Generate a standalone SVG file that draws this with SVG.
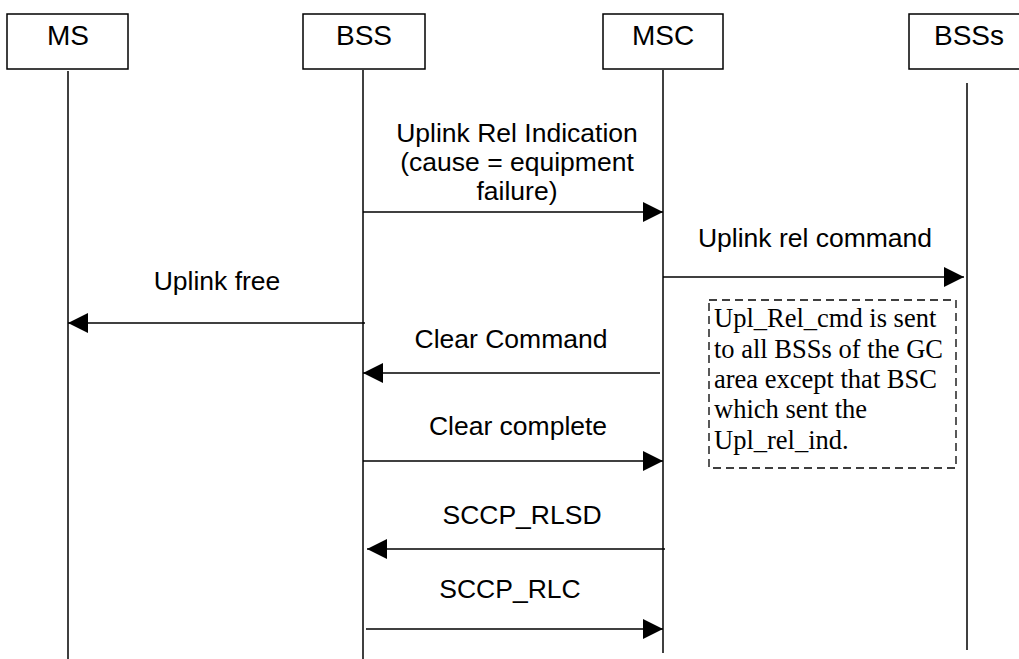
<svg xmlns="http://www.w3.org/2000/svg" width="1019" height="659" viewBox="0 0 1019 659">
<defs>
<marker id="ah" markerUnits="userSpaceOnUse" markerWidth="20" markerHeight="20" refX="20" refY="10" orient="auto">
<path d="M0,0 L20,10 L0,20 z" fill="#000"/>
</marker>
<style>
.box{fill:#fff;stroke:#000;stroke-width:1.5}
.life{stroke:#000;stroke-width:1.5;fill:none}
.msg{stroke:#000;stroke-width:1.5;fill:none;marker-end:url(#ah)}
.lbl{font-family:"Liberation Sans",Arial,sans-serif;font-size:26.5px;fill:#000;text-anchor:middle}
.hdr{font-size:28px}
.note{font-family:"Liberation Serif","Times New Roman",serif;font-size:26.5px;fill:#000}
.nbox{fill:none;stroke:#000;stroke-width:1.3;stroke-dasharray:8,5}
</style>
</defs>
<rect width="1019" height="659" fill="#fff"/>
<g id="MS">
<rect class="box" x="7" y="14" width="121" height="55"/>
<text class="lbl hdr" x="68" y="45">MS</text>
<line class="life" x1="68" y1="71" x2="68" y2="659"/>
</g>
<g id="BSS">
<rect class="box" x="303" y="14" width="122" height="55"/>
<text class="lbl hdr" x="364" y="45">BSS</text>
<line class="life" x1="363" y1="70" x2="363" y2="659"/>
</g>
<g id="MSC">
<rect class="box" x="603" y="14" width="120" height="55"/>
<text class="lbl hdr" x="663" y="45">MSC</text>
<line class="life" x1="663" y1="70" x2="663" y2="653"/>
</g>
<g id="BSSs">
<rect class="box" x="909" y="14" width="120" height="55"/>
<text class="lbl hdr" x="969" y="45">BSSs</text>
<line class="life" x1="967" y1="83" x2="967" y2="650"/>
</g>
<g id="note">
<rect class="nbox" x="709" y="300" width="247" height="168"/>
<text class="note" x="714" y="327">Upl_Rel_cmd is sent</text>
<text class="note" x="714" y="358">to all BSSs of the GC</text>
<text class="note" x="714" y="388">area except that BSC</text>
<text class="note" x="714" y="418">which sent the</text>
<text class="note" x="714" y="449">Upl_rel_ind.</text>
</g>
<g id="connectors">
<line class="msg" x1="363" y1="212" x2="663" y2="212"/>
<text class="lbl" x="517" y="142">Uplink Rel Indication</text>
<text class="lbl" x="517" y="171">(cause = equipment</text>
<text class="lbl" x="517" y="200">failure)</text>
<line class="msg" x1="663" y1="277" x2="964" y2="277"/>
<text class="lbl" x="815" y="247">Uplink rel command</text>
<line class="msg" x1="365" y1="323" x2="68" y2="323"/>
<text class="lbl" x="217" y="290">Uplink free</text>
<line class="msg" x1="660" y1="373" x2="363" y2="373"/>
<text class="lbl" x="511" y="348">Clear Command</text>
<line class="msg" x1="363" y1="461" x2="663" y2="461"/>
<text class="lbl" x="518" y="435">Clear complete</text>
<line class="msg" x1="665" y1="549" x2="367" y2="549"/>
<text class="lbl" x="522" y="524">SCCP_RLSD</text>
<line class="msg" x1="366" y1="629" x2="663" y2="629"/>
<text class="lbl" x="510" y="598">SCCP_RLC</text>
</g>
</svg>
